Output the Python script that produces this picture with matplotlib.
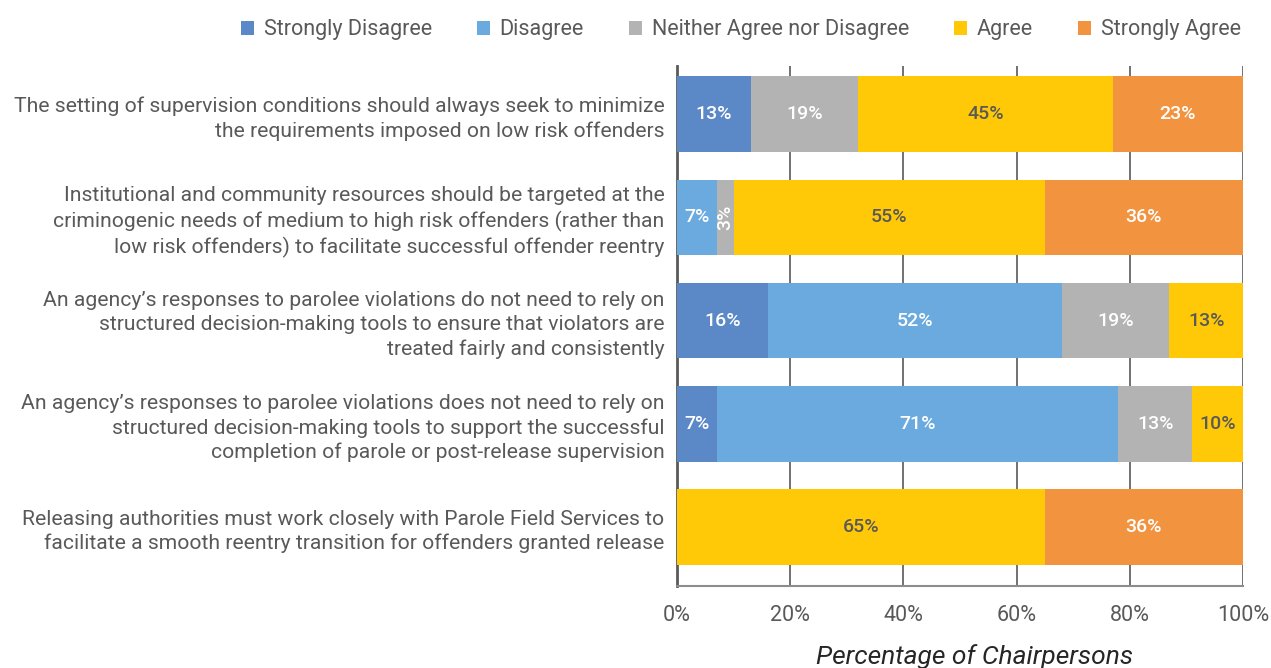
import matplotlib
matplotlib.use("Agg")
import matplotlib.pyplot as plt
import numpy as np

plt.rcParams['font.family'] = ['Roboto', 'DejaVu Sans']

statements = [
    "The setting of supervision conditions should always seek to minimize\nthe requirements imposed on low risk offenders",
    "Institutional and community resources should be targeted at the\ncriminogenic needs of medium to high risk offenders (rather than\nlow risk offenders) to facilitate successful offender reentry",
    "An agency\u2019s responses to parolee violations do not need to rely on\nstructured decision-making tools to ensure that violators are\ntreated fairly and consistently",
    "An agency\u2019s responses to parolee violations does not need to rely on\nstructured decision-making tools to support the successful\ncompletion of parole or post-release supervision",
    "Releasing authorities must work closely with Parole Field Services to\nfacilitate a smooth reentry transition for offenders granted release",
]
responses = ["Strongly Disagree", "Disagree", "Neither Agree nor Disagree", "Agree", "Strongly Agree"]
strongly_disagree = [13, 0, 16, 7, 0]
disagree = [0, 7, 52, 71, 0]
neither = [19, 3, 19, 13, 0]
agree = [45, 55, 13, 10, 65]
strongly_agree = [23, 36, 0, 0, 36]

colors = ["#5B88C6", "#6AAADE", "#B3B3B3", "#FFC907", "#F29340"]
label_colors = ["white", "white", "white", "#595959", "white"]
txt = "#595959"

fig = plt.figure(figsize=(12.71, 6.68), dpi=100)
ax = fig.add_axes([677 / 1271, 82 / 668, 566 / 1271, 520 / 668])

y = np.arange(len(statements))
left = np.zeros(len(statements))
series = [strongly_disagree, disagree, neither, agree, strongly_agree]
for name, vals, col, lcol in zip(responses, series, colors, label_colors):
    vals = np.array(vals, dtype=float)
    bars = ax.barh(y, vals, left=left, height=0.73, color=col, label=name, zorder=3)
    for b, v, l in zip(bars, vals, left):
        if v <= 0:
            continue
        yc = b.get_y() + b.get_height() / 2
        # last segment can run past 100%, so centre the label in the visible part
        cx = (l + min(l + v, 100)) / 2
        rot = 90 if v < 5 else 0
        ax.text(cx, yc, f"{v:.0f}%", rotation=rot, ha="center", va="center",
                color=lcol, fontsize=14, fontweight="medium", zorder=4)
    left += vals

ax.set_xlim(0, 100)
ax.set_ylim(4.57, -0.465)
ax.set_xticks(np.arange(0, 101, 20))
ax.set_xticklabels([f"{t}%" for t in range(0, 101, 20)], fontsize=15.5, color=txt)
ax.set_yticks(y)
ax.set_yticklabels(statements, fontsize=15.2, color=txt, linespacing=1.32)
ax.tick_params(axis="both", length=0)
ax.tick_params(axis="x", pad=14)
ax.tick_params(axis="y", pad=9)
ax.grid(axis="x", color="#595959", linewidth=1.2, zorder=0)
ax.set_axisbelow(True)
for s in ["top", "right"]:
    ax.spines[s].set_visible(False)
ax.spines["left"].set_color("#595959")
ax.spines["left"].set_linewidth(2)
ax.spines["bottom"].set_color("#8c8c8c")
ax.spines["bottom"].set_linewidth(1.5)

fig.text(975 / 1271, 1 - 657 / 668, "Percentage of Chairpersons", ha="center", va="center",
         fontsize=19, style="italic", color="#262626")

fig.legend(loc="upper right", bbox_to_anchor=(1260 / 1271, 1.0), ncol=5, frameon=False,
           fontsize=15.5, labelcolor=txt, handlelength=0.6, handleheight=0.6,
           handletextpad=0.45, columnspacing=2.1)

fig.savefig("out.png", dpi=100)
